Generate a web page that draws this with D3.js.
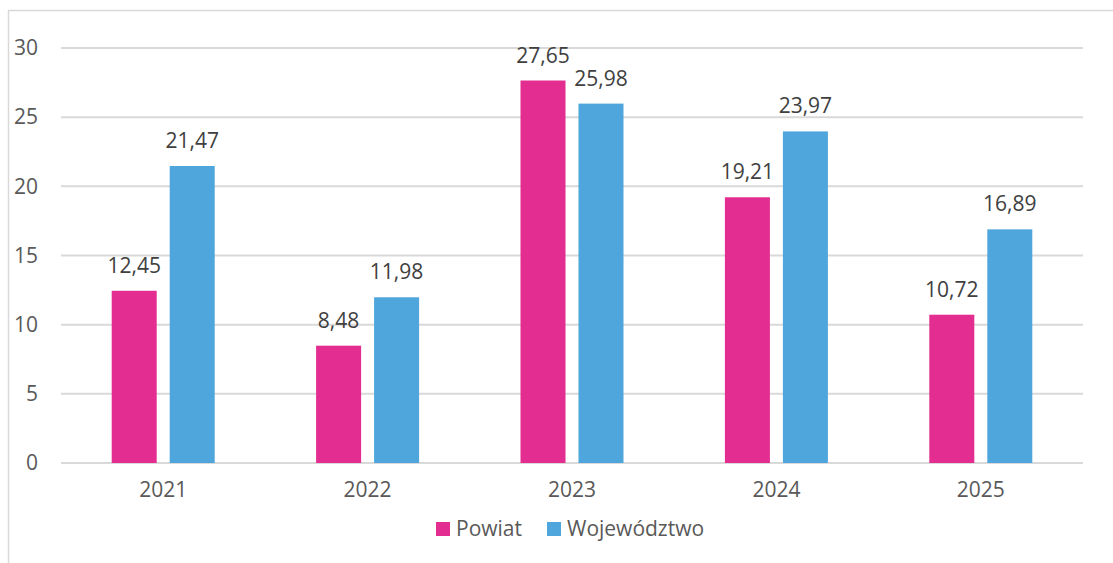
<!doctype html>
<html>
<head>
<meta charset="UTF-8">
<title>Powiat / Województwo</title>
<script src="https://d3js.org/d3.v7.min.js"></script>
<style>
	body { margin: 0; background: #fff; }
	.chart text { font-family: "Open Sans", sans-serif; }
	.axis path { display: none; }
	.axis line { display: none; }
	.grid line { stroke: #d9d9d9; stroke-width: 2; }
</style>
</head>
<body>
<svg class="chart" width="1113" height="563"></svg>
<script>
var years = ['2021', '2022', '2023', '2024', '2025'];
var seriesNames = ['Powiat', 'Województwo'];
var powiat = [12.45, 8.48, 27.65, 19.21, 10.72];
var wojewodztwo = [21.47, 11.98, 25.98, 23.97, 16.89];
var yTicks = [0, 5, 10, 15, 20, 25, 30];
var colors = ['#e32d91', '#4ea6dc'];

var svg = d3.select('.chart');
var plot = {left: 61, right: 1083, top: 48, bottom: 463};

// outer frame
svg.append('rect')
	.attr('x', 8.5).attr('y', 10.5)
	.attr('width', 1120).attr('height', 600)
	.attr('fill', 'none').attr('stroke', '#d9d9d9').attr('stroke-width', 1.5);

var x0 = d3.scaleBand().domain(years).range([plot.left, plot.right]);
var bw = x0.bandwidth();
var group = 103;
var x1 = d3.scaleBand().domain(seriesNames)
	.range([(bw - group) / 2, (bw + group) / 2]).paddingInner(0.224);
var y = d3.scaleLinear().domain([0, 30]).range([plot.bottom, plot.top]);

// gridlines
svg.append('g').attr('class', 'grid')
	.selectAll('line').data(yTicks).enter().append('line')
	.attr('x1', plot.left).attr('x2', plot.right)
	.attr('y1', function(d) { return y(d); })
	.attr('y2', function(d) { return y(d); });

// y axis labels
var yAxis = svg.append('g').attr('class', 'axis')
	.attr('transform', 'translate(48,0)')
	.call(d3.axisLeft(y).tickValues(yTicks).tickSize(0).tickPadding(10));
yAxis.selectAll('text').attr('fill', '#595959').style('font-size', '21px');

// x axis labels
var xAxis = svg.append('g').attr('class', 'axis')
	.attr('transform', 'translate(0,' + plot.bottom + ')')
	.call(d3.axisBottom(x0).tickSize(0).tickPadding(19));
xAxis.selectAll('text').attr('fill', '#595959').style('font-size', '21px');

var rows = years.map(function(yr, i) {
	return { year: yr, values: [
		{ name: seriesNames[0], value: powiat[i] },
		{ name: seriesNames[1], value: wojewodztwo[i] }
	]};
});

var g = svg.selectAll('.year').data(rows).enter().append('g')
	.attr('class', 'year')
	.attr('transform', function(d) { return 'translate(' + x0(d.year) + ',0)'; });

g.selectAll('rect').data(function(d) { return d.values; }).enter().append('rect')
	.attr('x', function(d) { return x1(d.name); })
	.attr('y', function(d) { return y(d.value); })
	.attr('width', x1.bandwidth())
	.attr('height', function(d) { return plot.bottom - y(d.value); })
	.attr('fill', function(d, i) { return colors[i]; });

var fmt = function(v) { return v.toFixed(2).replace('.', ','); };
g.selectAll('.val').data(function(d) { return d.values; }).enter().append('text')
	.attr('class', 'val')
	.attr('x', function(d) { return x1(d.name) + x1.bandwidth() / 2; })
	.attr('y', function(d) { return y(d.value) - 18; })
	.attr('text-anchor', 'middle')
	.attr('fill', '#404040')
	.style('font-size', '21px')
	.text(function(d) { return fmt(d.value); });

// legend
var legend = svg.append('g').attr('transform', 'translate(436,522)');
var lx = [0, 111];
seriesNames.forEach(function(name, i) {
	var it = legend.append('g').attr('transform', 'translate(' + lx[i] + ',0)');
	it.append('rect').attr('width', 14).attr('height', 14).attr('fill', colors[i]);
	it.append('text').attr('x', 20).attr('y', 7).attr('dy', '0.35em')
		.attr('fill', '#595959').style('font-size', '21px').text(name);
});
</script>
</body>
</html>
